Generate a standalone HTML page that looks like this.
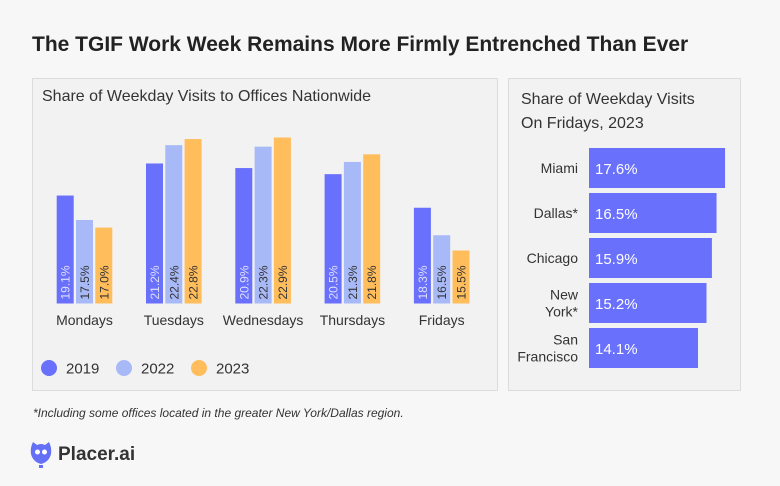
<!DOCTYPE html>
<html><head><meta charset="utf-8">
<style>
body{margin:0;width:780px;height:486px;background:#f8f7f7;font-family:"Liberation Sans",sans-serif;position:relative;overflow:hidden;color:#333}
.panel{position:absolute;background:#f2f2f2;border:1px solid #dcdcdc;box-sizing:border-box}
text{font-family:"Liberation Sans",sans-serif}
</style></head><body>
<div style="position:absolute;left:32px;top:33px;font-size:21px;font-weight:bold;color:#222">The TGIF Work Week Remains More Firmly Entrenched Than Ever</div>
<div class="panel" style="left:32px;top:78px;width:466px;height:313px"></div>
<div class="panel" style="left:508px;top:78px;width:233px;height:313px"></div>
<div style="position:absolute;left:42px;top:88px;font-size:16px;color:#333">Share of Weekday Visits to Offices Nationwide</div>
<div style="position:absolute;left:521px;top:88px;font-size:16px;line-height:24px;color:#333">Share of Weekday Visits<br>On Fridays, 2023</div>
<svg id="c" width="780" height="486" style="position:absolute;left:0;top:0"></svg>
<div style="position:absolute;left:33px;top:406px;font-size:12px;font-style:italic;color:#333">*Including some offices located in the greater New York/Dallas region.</div>
<div style="position:absolute;left:30px;top:440px;display:flex;align-items:center">
<svg width="22" height="30" viewBox="0 0 22 30"><path d="M3 2 L7 5 Q11 3 15 5 L19 2 Q22 8 21 14 Q19 22 11 24 Q3 22 1 14 Q0 8 3 2Z" fill="#6470f5"/><circle cx="7.5" cy="12" r="2.5" fill="#fff"/><circle cx="14.5" cy="12" r="2.5" fill="#fff"/><rect x="9" y="25" width="4" height="3" fill="#6470f5"/></svg>
<span style="font-size:19px;font-weight:bold;color:#333;margin-left:6px">Placer.ai</span></div>
<script>
const days=["Mondays","Tuesdays","Wednesdays","Thursdays","Fridays"];
const v2019=[19.1,21.2,20.9,20.5,18.3];
const v2022=[17.5,22.4,22.3,21.3,16.5];
const v2023=[17.0,22.8,22.9,21.8,15.5];
const years=["2019","2022","2023"];
const cities=["Miami","Dallas*","Chicago","New York*","San Francisco"];
const cityVals=[17.6,16.5,15.9,15.2,14.1];
const colors=["#6970fc","#a8b9f8","#ffbd5c"];
const svg=document.getElementById('c');const NS="http://www.w3.org/2000/svg";
function mk(t,a,p){const e=document.createElementNS(NS,t);for(const k in a)e.setAttribute(k,a[k]);(p||svg).appendChild(e);return e;}
const base=303.5, yv=v=>base-15.27*(v-12.03);
const gx=i=>56.7+89.3*i;
const series=[v2019,v2022,v2023];
days.forEach((d,i)=>{
  series.forEach((s,j)=>{
    const x=gx(i)+j*19.3, y=yv(s[i]);
    const r=mk('rect',{x:x,y:y,width:17,height:base-y,fill:colors[j]});
    
    
    const t=mk('text',{x:0,y:0,transform:`translate(${x+13},${base-4}) rotate(-90)`,'font-size':12,fill:j==0?'#dde0ff':'#333'});
    t.textContent=s[i].toFixed(1)+'%';
    
    
  });
  const l=mk('text',{x:gx(i)+27.8,y:325,'text-anchor':'middle','font-size':14,fill:'#333'});
  l.textContent=d;
  
  
});
years.forEach((y,j)=>{
  const cx=49+75*j;
  const c=mk('circle',{cx:cx,cy:368,r:8,fill:colors[j]});
  
  
  const t=mk('text',{x:cx+17,y:373.5,'font-size':15,fill:'#333'});t.textContent=y;
  
  
});
const hx=v=>589+7.73*v;
cities.forEach((c,i)=>{
  const y=148+45*i;
  const r=mk('rect',{x:589,y:y,width:hx(cityVals[i])-589,height:40,fill:colors[0]});
  
  
  const t=mk('text',{x:595,y:y+26,'font-size':15,fill:'#fff'});t.textContent=cityVals[i].toFixed(1)+'%';
  
  
  const parts=c.split(' ');
  parts.forEach((p,k)=>{
    const lt=mk('text',{x:578,y:y+25+(k-(parts.length-1)/2)*17,'text-anchor':'end','font-size':14,fill:'#333'});
    lt.textContent=p;
    
    
  });
});
</script>
</body></html>
